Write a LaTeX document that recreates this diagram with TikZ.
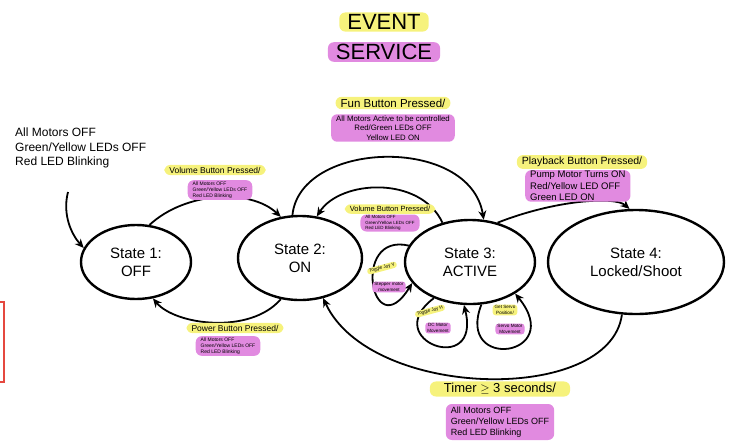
\documentclass[tikz,border=0pt]{standalone}
\usepackage{fontspec}
\setmainfont{Liberation Sans}
\usetikzlibrary{shapes.geometric,arrows.meta}
\definecolor{hly}{HTML}{F6F27C}
\definecolor{hlp}{HTML}{E18AE0}
\definecolor{redbox}{HTML}{E5483F}
\begin{document}
\begin{tikzpicture}[x=1pt,y=-1pt,
  fs/.style={font=\fontsize{#1}{#1}\selectfont\setlength{\baselineskip}{1.2\baselineskip}},
  state/.style={ellipse, draw, line width=2.4pt, align=center, inner sep=0pt, fs=15},
  arr/.style={line width=1.8pt, -{Stealth[length=9pt,width=8pt]}},
  hy/.style={fill=hly, rounded corners=6pt, inner xsep=5pt, inner ysep=2pt},
  hp/.style={fill=hlp, rounded corners=6pt, inner xsep=5pt, inner ysep=2pt},
  tinyl/.style={fs=4.6, align=center, inner xsep=2pt, inner ysep=1pt, rounded corners=3pt}]
\useasboundingbox (0,0) rectangle (742,445);
% title
\node[hy, fs=22, inner xsep=8pt] (t1) at (384,22) {EVENT};
\node[hp, fs=22, inner xsep=8pt] (t2) at (384,52) {SERVICE};
% states
\node[state, minimum width=110pt, minimum height=74pt] (s1) at (136,262) {State 1:\\OFF};
\node[state, minimum width=124pt, minimum height=84pt] (s2) at (300,258) {State 2:\\ON};
\node[state, minimum width=130pt, minimum height=84pt] (s3) at (470,262) {State 3:\\ACTIVE};
\node[state, minimum width=176pt, minimum height=104pt] (s4) at (636,262) {State 4:\\Locked/Shoot};
% self loops on state 3
\draw[arr] (s3.165) .. controls (350,232) and (372,348) .. (s3.200);
\node[hy, tinyl, rotate=15] (jvy) at (382,268) {Toggle Joy V};
\node[hp, tinyl] (jvp) at (389,287) {Stepper motor\\movement};
\draw[arr] (s3.225) .. controls (378,340) and (482,378) .. (s3.262);
\node[hy, tinyl, rotate=15] (jhy) at (430,311) {Toggle Joy H};
\node[hp, tinyl] (jhp) at (438,328) {DC Motor\\Movement};
\draw[arr] (s3.285) .. controls (455,372) and (567,357) .. (s3.325);
\node[hy, tinyl] (gsy) at (505,310) {Get Servo\\Position/};
\node[hp, tinyl] (gsp) at (510,329) {Servo Motor\\Movement};
% initial
\node[align=left, anchor=north west, fs=12, inner sep=0pt] (init) at (15,128) {All Motors OFF\\Green/Yellow LEDs OFF\\Red LED Blinking};
\coordinate (i0) at (68,192);
\draw[arr] (i0) .. controls (62,215) and (72,235) .. (s1.165);
% edges
\draw[arr] (s1.70) .. controls (185,192) and (250,188) .. (s2.115);
\draw[arr] (s2.245) .. controls (250,335) and (175,325) .. (s1.295);
\draw[arr] (s2.100) .. controls (300,140) and (470,135) .. (s3.72);
\draw[arr] (s3.125) .. controls (420,175) and (340,180) .. (s2.68);
\draw[arr] (s3.55) .. controls (555,200) and (615,196) .. (s4.97);
\draw[arr] (s4.255) .. controls (610,405) and (370,400) .. (s2.300);
% labels
\node[hy, fs=11.5] (lf) at (393,103) {Fun Button Pressed/};
\node[hp, fs=7.8, align=center, inner ysep=1.5pt] (lfp) at (393,128) {All Motors Active to be controlled\\Red/Green LEDs OFF\\Yellow LED ON};
\node[hy, fs=8.5] (lv1) at (215,170) {Volume Button Pressed/};
\node[hp, fs=5, align=left, inner ysep=1.5pt] (lv1p) at (220,190) {All Motors OFF\\Green/Yellow LEDs OFF\\Red LED Blinking};
\node[hy, fs=7.5] (lv2) at (390,209) {Volume Button Pressed/};
\node[hp, fs=4.5, align=left, inner ysep=1pt] (lv2p) at (390,223) {All Motors OFF\\Green/Yellow LEDs OFF\\Red LED Blinking};
\node[hy, fs=10.5] (lpb) at (582,162) {Playback Button Pressed/};
\node[hp, fs=9.5, align=left, anchor=north west, inner ysep=1pt] (lpbp) at (525,170) {Pump Motor Turns ON\\Red/Yellow LED OFF\\Green LED ON};
\node[hy, fs=8.5] (lpw) at (235,328) {Power Button Pressed/};
\node[hp, fs=5, align=left, inner ysep=1.5pt] (lpwp) at (228,346) {All Motors OFF\\Green/Yellow LEDs OFF\\Red LED Blinking};
\node[hy, fs=13, inner xsep=14pt] (lt) at (500,389) {Timer $\geq$ 3 seconds/};
\node[hp, fs=9, align=left, inner ysep=3pt] (ltp) at (500,422) {All Motors OFF\\Green/Yellow LEDs OFF\\Red LED Blinking};
% red box
\draw[redbox, line width=1.2pt] (-5,302) rectangle (4,382);
\end{tikzpicture}
\end{document}
